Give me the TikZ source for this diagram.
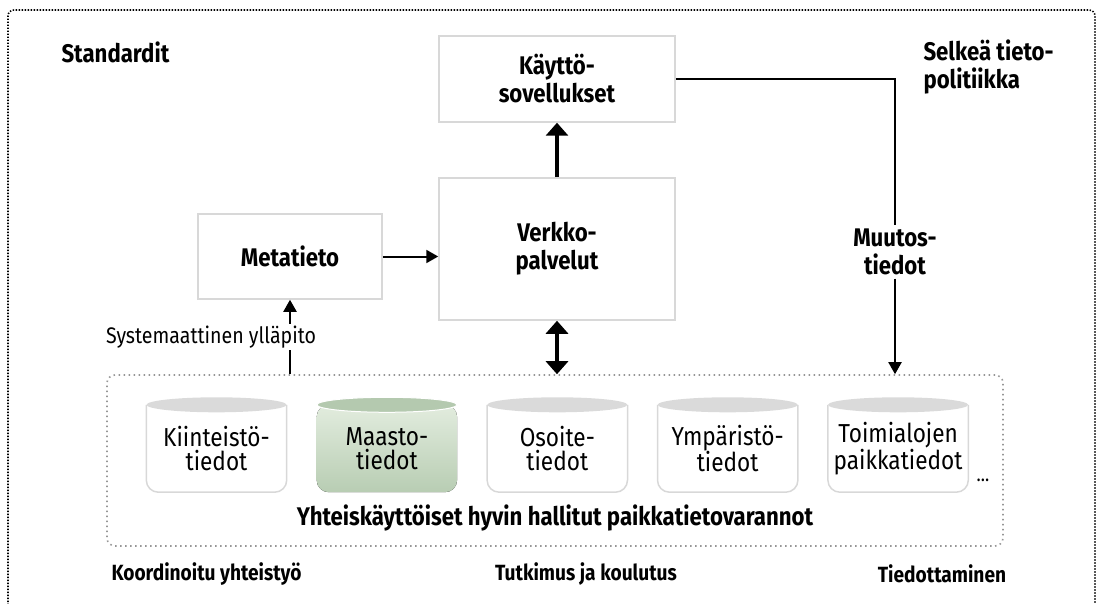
\documentclass[tikz,border=0pt]{standalone}
\usepackage{fontspec}
\setmainfont[FakeStretch=0.87]{Fira Sans}
\usetikzlibrary{positioning,arrows.meta,backgrounds}
\definecolor{boxgray}{RGB}{216,216,216}
\definecolor{dotgray}{RGB}{150,150,150}
\definecolor{lidgray}{RGB}{218,218,218}
\definecolor{greenlid}{RGB}{180,201,175}
\definecolor{greentop}{RGB}{226,236,222}
\definecolor{greenbot}{RGB}{184,205,179}

\begin{document}
\begin{tikzpicture}[x=1pt, y=-1pt,
	block/.style={rectangle, draw=boxgray, line width=1.5pt, align=center, font=\bfseries\fontsize{25.5}{28}\selectfont},
	store/.style={rectangle, minimum width=140pt, minimum height=87pt, align=center, font=\fontsize{26}{24}\selectfont},
	label/.style={rectangle, align=center, font=\bfseries\fontsize{25.5}{28}\selectfont},
	side/.style={font=\bfseries\fontsize{22}{24}\selectfont},
	storeline/.style={draw=boxgray, line width=1.5pt, rounded corners=12pt},
	thin/.style={line width=2pt, -{Triangle[length=12pt,width=13pt]}},
	fat/.style={line width=4.5pt, -{Triangle[length=13pt,width=22pt]}}
]
\useasboundingbox (0,0) rectangle (1097,604);
\draw[line width=1.6pt, dash pattern=on 1.4pt off 1.6pt, rounded corners=6pt] (8,620) -- (8,10) -- (1095,10) -- (1095,620);

\node[block, minimum width=236pt, minimum height=86pt] (kaytto) at (557,79) {Käyttö-\\sovellukset};
\node[block, minimum width=236pt, minimum height=142pt] (verkko) at (557,249) {Verkko-\\palvelut};
\node[block, minimum width=184pt, minimum height=85pt] (meta) at (290,256.5) {Metatieto};
\node[draw=dotgray, line width=1.6pt, dash pattern=on 1.5pt off 3.5pt, rounded corners=8pt, minimum width=896pt, minimum height=171pt] (pool) at (555,460.5) {};

\node[store] (kiint) at (216.5,448.5) {Kiinteistö-\\tiedot};
\node[store] (maasto) [right=30pt of kiint] {Maasto-\\tiedot};
\node[store] (osoite) [right=30pt of maasto] {Osoite-\\tiedot};
\node[store] (ymp) [right=30pt of osoite] {Ympäristö-\\tiedot};
\node[store] (toimi) [right=30pt of ymp] {Toimialojen\\paikkatiedot};
\node[font=\fontsize{20}{22}\selectfont] (jne) at (983,480) {...};

\begin{scope}[on background layer]
	\foreach \n in {kiint,osoite,ymp,toimi} {
		\draw[storeline] (\n.north west) -- (\n.south west) -- (\n.south east) -- (\n.north east);
		\fill[lidgray] (\n.north) ellipse (70pt and 7.5pt);
	}
	\fill[top color=greentop, bottom color=greenbot, rounded corners=12pt] (maasto.north west) -- (maasto.south west) -- (maasto.south east) -- (maasto.north east) -- cycle;
	\fill[greenlid, draw=white, line width=1pt] (maasto.north) ellipse (70pt and 7.5pt);
\end{scope}

\node[label, anchor=west] (standardit) at (58,52) {Standardit};
\node[label, anchor=north west, align=left] (selkea) at (920,36) {Selkeä tieto-\\politiikka};
\node[label, fill=white] (muutos) at (895,252) {Muutos-\\tiedot};
\node[fill=white, inner sep=2pt, font=\fontsize{22.5}{24}\selectfont] (sysyp) at (211,337) {Systemaattinen ylläpito};
\node[label] (yhteis) at (555,518) {Yhteiskäyttöiset hyvin hallitut paikkatietovarannot};
\node[side, anchor=west] (koord) at (108,574) {Koordinoitu yhteistyö};
\node[side] (tutkimus) at (586,574) {Tutkimus ja koulutus};
\node[side] (tiedotus) at (942,574) {Tiedottaminen};

\draw[fat] (verkko.north) -- (kaytto.south);
\draw[fat, {Triangle[length=13pt,width=22pt]}-{Triangle[length=13pt,width=22pt]}] (verkko.south) -- (verkko.south |- pool.north);
\draw[thin] (meta.east) -- (meta.east -| verkko.west);
\draw[line width=2pt] (kaytto.east) -| (muutos.north);
\draw[thin] (muutos.south) -- (muutos.south |- pool.north);
\draw[line width=2pt] (meta.south |- pool.north) -- (meta.south |- sysyp.south);
\draw[thin] (meta.south |- sysyp.north) -- (meta.south);
\end{tikzpicture}
\end{document}
